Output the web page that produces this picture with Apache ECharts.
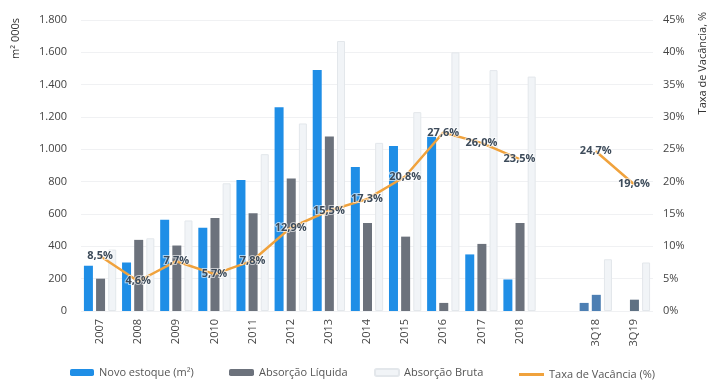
<!DOCTYPE html>
<html><head><meta charset="utf-8">
<script src="https://cdn.jsdelivr.net/npm/echarts@6/dist/echarts.min.js"></script>
<style>html,body{margin:0;padding:0;background:#fff}#c{width:712px;height:381px}</style>
</head><body><div id="c"></div>
<script>
const categories = ['2007','2008','2009','2010','2011','2012','2013','2014','2015','2016','2017','2018','','3Q18','3Q19'];
const novoEstoque = [280,300,565,515,810,1260,1490,890,1020,1080,350,195,null,50,null];
const absorcaoLiquida = [200,440,405,575,605,820,1080,545,460,50,415,545,null,100,70];
const absorcaoBruta = [380,450,560,790,970,1160,1670,1040,1230,1600,1490,1450,null,320,300];
const taxaVacancia = [8.5,4.6,7.7,5.7,7.8,12.9,15.5,17.3,20.8,27.6,26.0,23.5,null,24.7,19.6];
const leftTicks = [0,200,400,600,800,1000,1200,1400,1600,1800];
const rightTicks = [0,5,10,15,20,25,30,35,40,45];

const font = 'Open Sans';
const quarterColors = {novo:'#4d7fb3', liq:'#4d7fb3', liq2:'#5f7183'};
const novoData = novoEstoque.map((v,i)=> categories[i]==='3Q18' ? {value:v,itemStyle:{color:quarterColors.novo}} : v);
const liqData = absorcaoLiquida.map((v,i)=> categories[i]==='3Q18' ? {value:v,itemStyle:{color:quarterColors.liq}} : (categories[i]==='3Q19' ? {value:v,itemStyle:{color:quarterColors.liq2}} : v));

const chart = echarts.init(document.getElementById('c'));
const legendText = {fontFamily:font, fontSize:11, color:'#555'};
const legendBase = {top: 367, padding:0, itemHeight: 7, itemWidth: 24, itemGap: 4, textStyle:legendText};
chart.setOption({
  animation:false,
  textStyle:{fontFamily:font},
  grid:{left:81, right:59, top:20, bottom:70},
  legend:[
    Object.assign({}, legendBase, {left:70, data:['Novo estoque (m²)']}),
    Object.assign({}, legendBase, {left:229, itemWidth:25, data:['Absorção Líquida']}),
    Object.assign({}, legendBase, {left:374, data:['Absorção Bruta']}),
    Object.assign({}, legendBase, {left:519, itemHeight:3, itemWidth:25, top:369,
      data:[{name:'Taxa de Vacância (%)', icon:'rect', itemStyle:{color:'#f0a23c'}}]})
  ],
  xAxis:{type:'category', data:categories,
    axisLine:{show:false}, axisTick:{show:false},
    axisLabel:{rotate:90, fontFamily:font, fontSize:11, color:'#444', margin:8}},
  yAxis:[
    {type:'value', min:0, max:1800, interval:200,
     axisLine:{show:false}, axisTick:{show:false},
     splitLine:{lineStyle:{color:'#f0f1f3'}},
     axisLabel:{fontFamily:font, fontSize:11, color:'#444', margin:14,
       formatter:v=> leftTicks.includes(v) ? String(v).replace(/\B(?=(\d{3})+(?!\d))/g,'.') : ''}},
    {type:'value', min:0, max:45, interval:5,
     axisLine:{show:false}, axisTick:{show:false}, splitLine:{show:false},
     axisLabel:{fontFamily:font, fontSize:11, color:'#444', margin:10,
       formatter:v=> rightTicks.includes(v) ? v+'%' : ''}}
  ],
  graphic:[
    {type:'text', left:10, top:18, rotation:Math.PI/2,
     style:{text:'m² 000s', fontFamily:font, fontSize:11, fill:'#333'}},
    {type:'text', left:697, top:12, rotation:Math.PI/2,
     style:{text:'Taxa de Vacância, %', fontFamily:font, fontSize:11, fill:'#333'}}
  ],
  series:[
    {name:'Novo estoque (m²)', type:'bar', data:novoData, barWidth:9, barGap:'0%',
     itemStyle:{color:'#1f8ee6'}},
    {name:'Absorção Líquida', type:'bar', data:liqData, barWidth:9, barGap:'0%',
     itemStyle:{color:'#6c727c'}},
    {name:'Absorção Bruta', type:'bar', data:absorcaoBruta, barWidth:8, barGap:'35%',
     itemStyle:{color:'#f1f4f7', borderColor:'#e3e7eb', borderWidth:1}},
    {name:'Taxa de Vacância (%)', type:'line', yAxisIndex:1, data:taxaVacancia,
     showSymbol:true, symbol:'circle', symbolSize:1, connectNulls:false, z:5,
     lineStyle:{color:'#f0a23c', width:2.5}, itemStyle:{color:'#f0a23c'},
     label:{show:true, position:'inside', fontFamily:font, fontSize:11, fontWeight:'bold', color:'#3d4b5a',
       textBorderColor:'rgba(255,255,255,0.6)', textBorderWidth:2,
       formatter:p=> p.value==null ? '' : p.value.toFixed(1).replace('.',',')+'%'}}
  ]
});
</script></body></html>
